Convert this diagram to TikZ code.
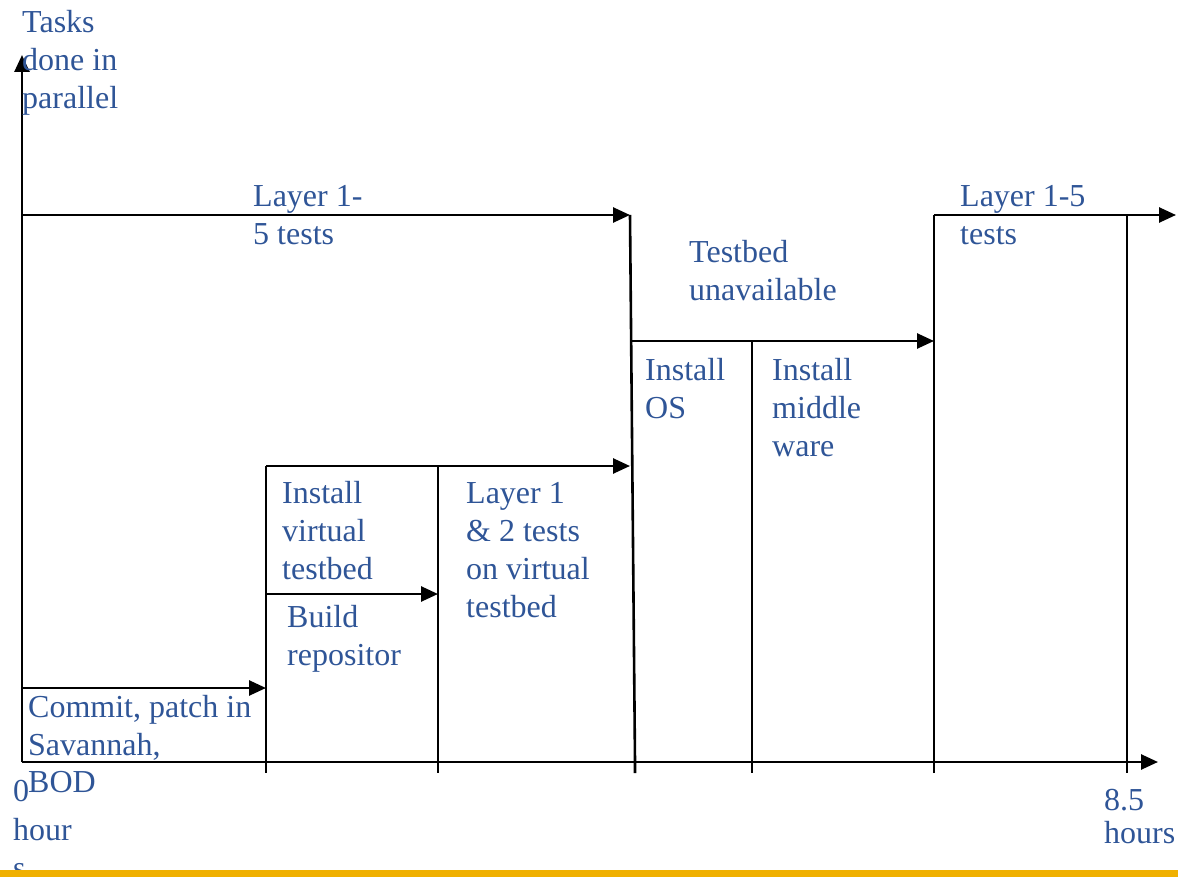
\documentclass[tikz,border=0pt]{standalone}
\usepackage{fontspec}
\setmainfont{Liberation Serif}
\usetikzlibrary{arrows.meta}
\definecolor{txtblue}{RGB}{47,85,151}
\definecolor{barorange}{RGB}{240,176,0}
\tikzset{
  lbl/.style={anchor=base west, inner sep=0pt, align=left, text=txtblue,
    font=\fontsize{32}{38}\selectfont},
  ln/.style={line width=2.6pt, black},
  arr/.style={ln, -{Triangle[length=17pt,width=15pt]}},
}
\begin{document}
\begin{tikzpicture}[x=1pt,y=-1pt]
\useasboundingbox (0,0) rectangle (1178,877);
% coordinates
\coordinate (o) at (22,762);
\coordinate (ytop) at (22,55);
\coordinate (xend) at (1158,762);
\coordinate (cA) at (22,688);
\coordinate (cB) at (266,688);
\coordinate (vA) at (266,466);
\coordinate (vAb) at (266,773);
\coordinate (vB) at (438,466);
\coordinate (vBb) at (438,773);
\coordinate (bA) at (266,594);
\coordinate (bB) at (438,594);
\coordinate (vEnd) at (630,466);
\coordinate (tA) at (22,215);
\coordinate (tB) at (630,215);
\coordinate (tC) at (635,762);
\coordinate (tCb) at (635,773);
\coordinate (oA) at (630,341);
\coordinate (oB) at (934,341);
\coordinate (mA) at (752,341);
\coordinate (mB) at (752,773);
\coordinate (lA) at (934,215);
\coordinate (lAb) at (934,773);
\coordinate (lEnd) at (1176,215);
\coordinate (rA) at (1127,215);
\coordinate (rB) at (1127,773);
% axes
\draw[arr] (o) -- (ytop);
\draw[arr] (o) -- (xend);
% commit
\draw[arr] (cA) -- (cB);
\draw[ln] (vA) -- (vAb);
% virtual testbed
\draw[arr] (vA) -- (vEnd);
\draw[ln] (vB) -- (vBb);
\draw[arr] (bA) -- (bB);
% top layer 1-5
\draw[arr] (tA) -- (tB);
\draw[ln] (tB) -- (tC) -- (tCb);
% install OS
\draw[arr] (oA) -- (oB);
\draw[ln] (mA) -- (mB);
% second layer 1-5
\draw[ln] (lAb) -- (lA);
\draw[arr] (lA) -- (lEnd);
\draw[ln] (rA) -- (rB);
% texts (anchored at the baseline of the last line)
\node[lbl] (t1) at (22,109) {Tasks\\done in\\parallel};
\node[lbl] (t2) at (253,245) {Layer 1-\\5 tests};
\node[lbl] (t3) at (689,301) {Testbed\\unavailable};
\node[lbl] (t4) at (645,418) {Install\\OS};
\node[lbl] (t5) at (772,456) {Install\\middle\\ware};
\node[lbl] (t6) at (960,245) {Layer 1-5\\tests};
\node[lbl] (t7) at (282,579) {Install\\virtual\\testbed};
\node[lbl] (t8) at (287,665) {Build\\repositor};
\node[lbl] (t9) at (466,617) {Layer 1\\\& 2 tests\\on virtual\\testbed};
\node[lbl] (t10) at (28,755) {Commit, patch in\\Savannah,};
\node[lbl] (t11) at (13,801) {0};
\node[lbl] (t12) at (28,792) {BOD};
\node[lbl] (t13) at (13,878) {hour\\s};
\node[lbl] (t14) at (1104,810) {8.5};
\node[lbl] (t15) at (1104,843) {hours};
% bottom bar
\fill[barorange] (0,870) rectangle (1178,877);
\end{tikzpicture}
\end{document}
